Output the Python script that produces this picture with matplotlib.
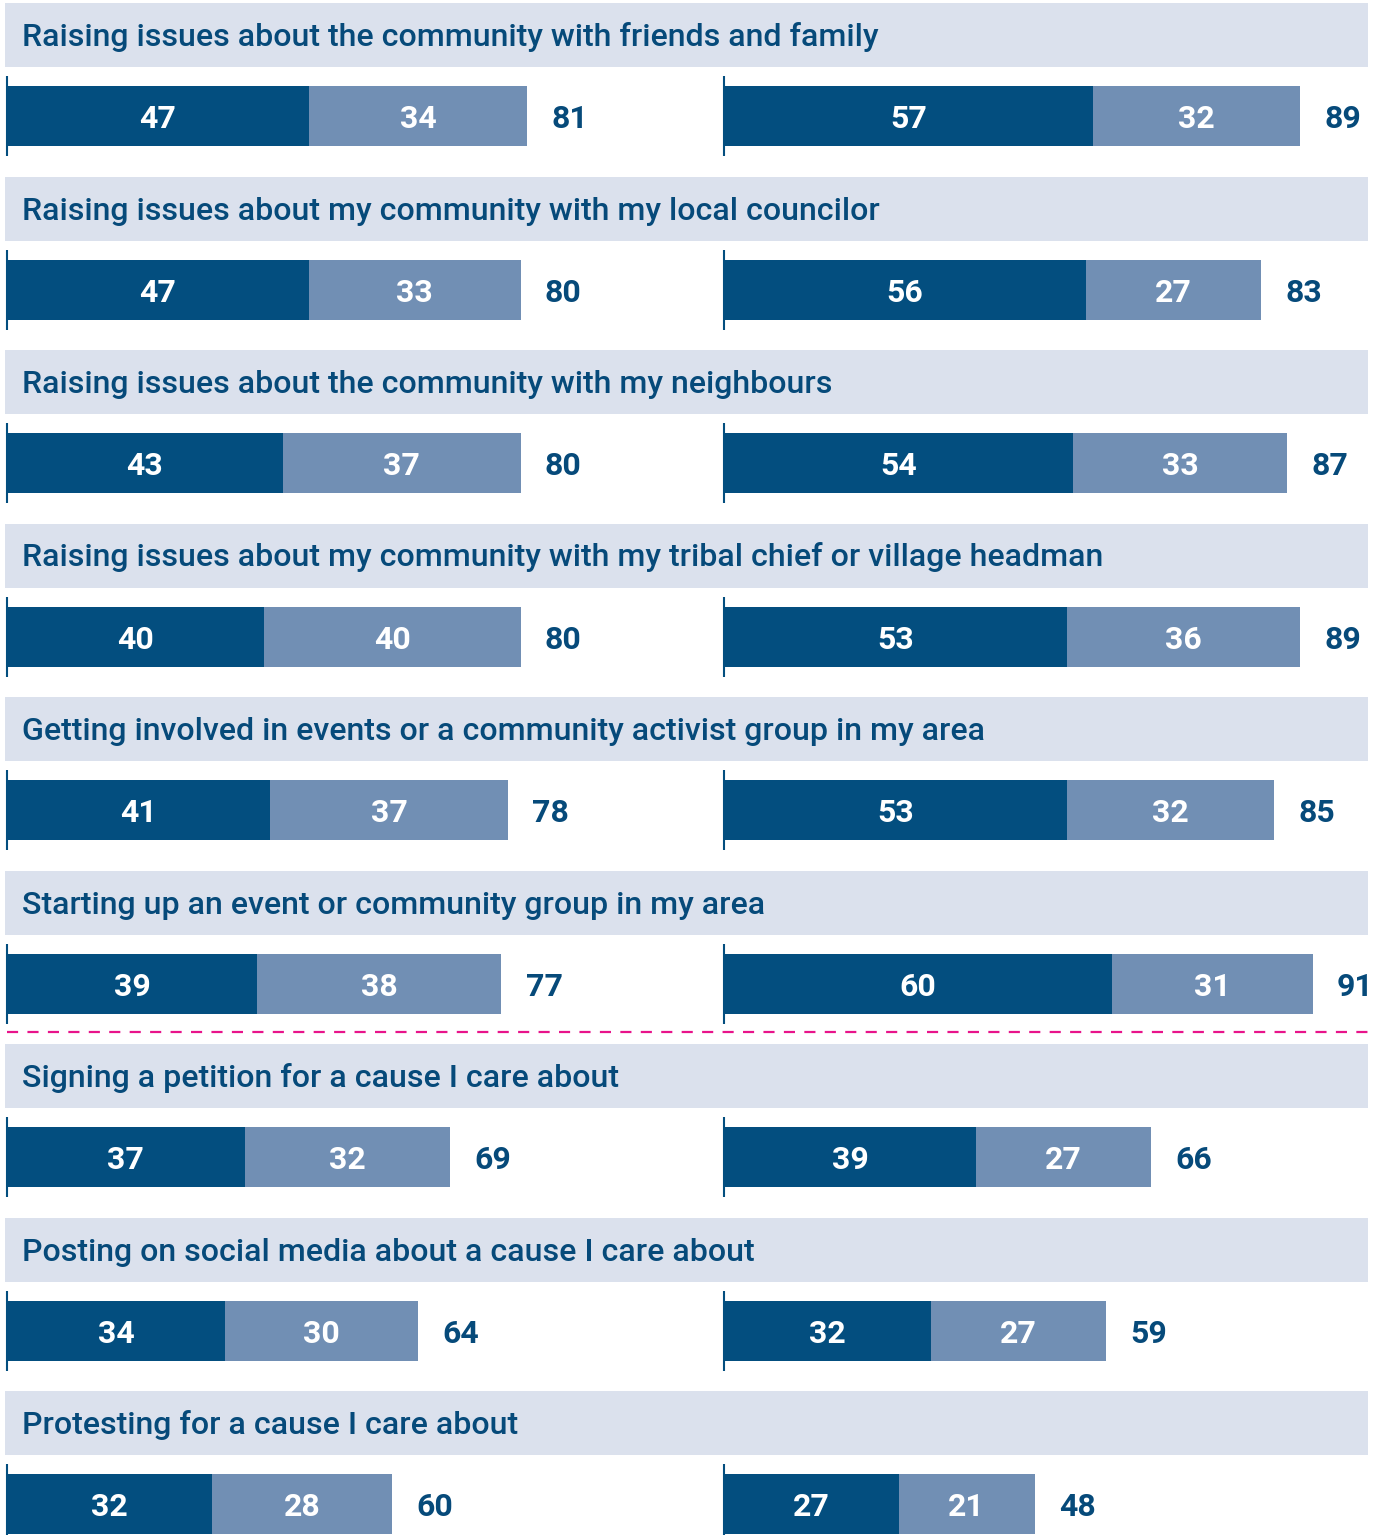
import numpy as np
import matplotlib.pyplot as plt

'''Chart data'''
labels = [
    'Raising issues about the community with friends and family',
    'Raising issues about my community with my local councilor',
    'Raising issues about the community with my neighbours',
    'Raising issues about my community with my tribal chief or village headman',
    'Getting involved in events or a community activist group in my area',
    'Starting up an event or community group in my area',
    'Signing a petition for a cause I care about',
    'Posting on social media about a cause I care about',
    'Protesting for a cause I care about',
]
left_a = [47, 47, 43, 40, 41, 39, 37, 34, 32]
left_b = [34, 33, 37, 40, 37, 38, 32, 30, 28]
left_tot = [81, 80, 80, 80, 78, 77, 69, 64, 60]
right_a = [57, 56, 54, 53, 53, 60, 39, 32, 27]
right_b = [32, 27, 33, 36, 32, 31, 27, 27, 21]
right_tot = [89, 83, 87, 89, 85, 91, 66, 59, 48]

'''Style'''
DARK = '#034e7f'
LIGHT = '#718fb4'
BAND = '#dbe1ed'
TEXT = '#064a7a'
PINK = '#e8138a'
plt.rcParams['font.family'] = ['Roboto', 'DejaVu Sans']

W, H = 1386, 1535
pitch = 173.5                      # px per group
n = len(labels)
ytop = H / pitch
bar_c = np.arange(n) + 116 / pitch
bar_h = 60 / pitch
band_top = np.arange(n) + 3 / pitch
band_h = 64 / pitch

fig = plt.figure(figsize=(W / 100, H / 100), dpi=100)

bg = fig.add_axes([0, 0, 1, 1])
bg.set_xlim(0, W)
bg.set_ylim(ytop, 0)
bg.axis('off')
for i, lab in enumerate(labels):
    bg.add_patch(plt.Rectangle((5, band_top[i]), 1363, band_h, color=BAND, lw=0))
    bg.text(22, band_top[i] + 43 / pitch, lab, fontsize=23.1, color=TEXT,
            va='baseline', ha='left', fontweight='medium')
# separator between groups 6 and 7
y_sep = band_top[6] - 12 / pitch
bg.plot([7, 1368], [y_sep, y_sep], color=PINK, lw=1.6, dashes=(5.0, 4.2))


def panel(x0, width, scale, a, b, tot):
    ax = fig.add_axes([x0 / W, 0, width / W, 1])
    ax.set_xlim(0, width / scale)
    ax.set_ylim(ytop, 0)
    ax.axis('off')
    ax.patch.set_alpha(0)
    a = np.array(a)
    b = np.array(b)
    ax.barh(bar_c, a, height=bar_h, color=DARK, lw=0)
    ax.barh(bar_c, b, left=a, height=bar_h, color=LIGHT, lw=0)
    ax.vlines(np.zeros(n), bar_c - 40 / pitch, bar_c + 40 / pitch, color=DARK, lw=1.5, clip_on=False)
    off = 12 / pitch
    for i in range(n):
        ax.text(a[i] / 2, bar_c[i] + off, str(a[i]), ha='center', va='baseline',
                color='white', fontsize=23, fontweight='bold')
        ax.text(a[i] + b[i] / 2, bar_c[i] + off, str(b[i]), ha='center', va='baseline',
                color='white', fontsize=23, fontweight='bold')
        ax.annotate(str(tot[i]), (a[i] + b[i], bar_c[i] + off), xytext=(17.5, 0),
                    textcoords='offset points', ha='left', va='baseline',
                    color=TEXT, fontsize=23, fontweight='bold')
    return ax


panel(7, 700, 6.42, left_a, left_b, left_tot)
panel(724, 662, 6.47, right_a, right_b, right_tot)

fig.savefig('out.png', dpi=100)
